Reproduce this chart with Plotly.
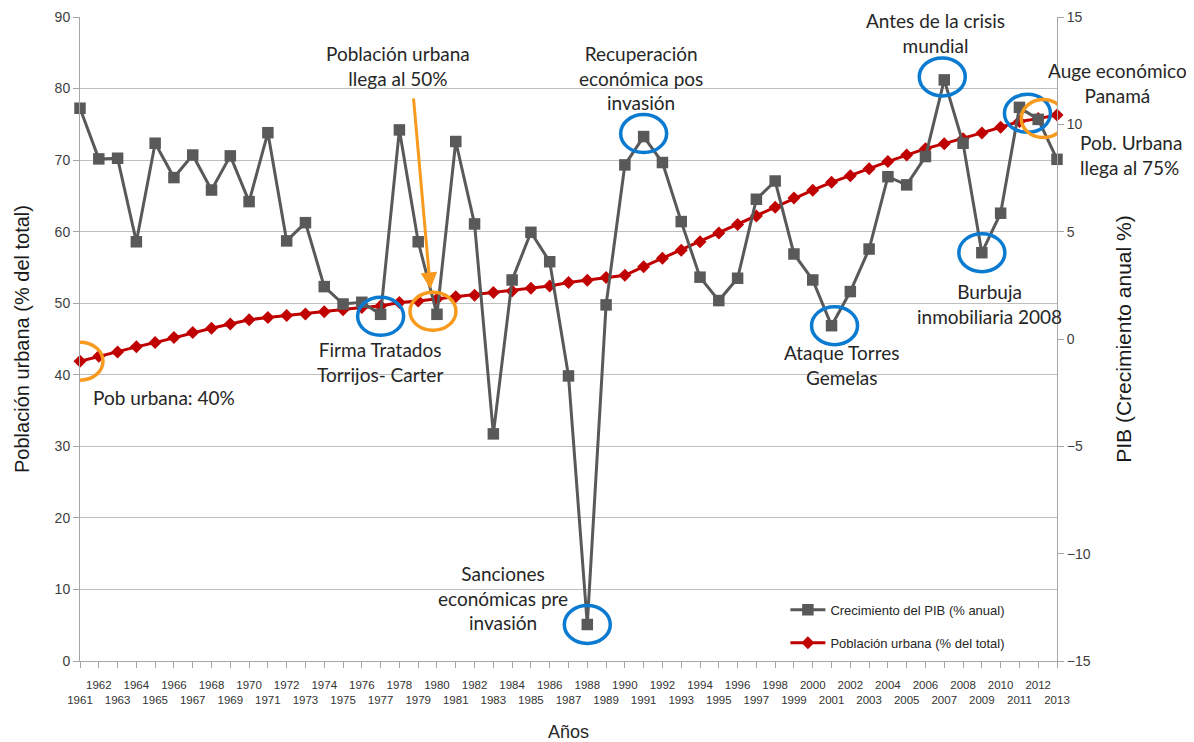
import plotly.graph_objects as go

years = list(range(1961, 2014))
gdp = [10.75, 8.39, 8.42, 4.53, 9.12, 7.52, 8.57, 6.94, 8.53, 6.40,
       9.61, 4.57, 5.42, 2.44, 1.63, 1.71, 1.15, 9.74, 4.53, 1.15,
       9.20, 5.36, -4.42, 2.75, 4.97, 3.60, -1.72, -13.30, 1.59, 8.11,
       9.43, 8.22, 5.47, 2.88, 1.79, 2.83, 6.51, 7.36, 3.96, 2.75,
       0.62, 2.21, 4.19, 7.56, 7.18, 8.50, 12.07, 9.12, 4.02, 5.86,
       10.79, 10.23, 8.37]
urban = [41.9, 42.6, 43.2, 43.9, 44.5, 45.2, 45.9, 46.5, 47.1, 47.7,
         48.0, 48.3, 48.5, 48.8, 49.1, 49.4, 49.6, 50.1, 50.3, 50.6,
         50.9, 51.1, 51.5, 51.7, 52.1, 52.4, 52.9, 53.2, 53.6, 53.9,
         55.1, 56.3, 57.4, 58.6, 59.8, 61.0, 62.2, 63.4, 64.7, 65.8,
         66.9, 67.8, 68.8, 69.8, 70.7, 71.6, 72.3, 73.0, 73.8, 74.6,
         75.4, 75.8, 76.3]
tick_text = [str(y) if y % 2 == 0 else "\u00a0<br>" + str(y) for y in years]

GRAY = "#595959"
RED = "#C00000"
BLUE = "#0A7BD0"
ORANGE = "#F79A1E"
TXT = "Lato"

fig = go.Figure()
fig.add_trace(go.Scatter(
    x=years, y=gdp, yaxis="y2", mode="lines+markers",
    name="Crecimiento del PIB (% anual)", legendgroup="g1",
    line=dict(color=GRAY, width=3),
    marker=dict(symbol="square", size=11.5, color=GRAY),
    cliponaxis=False))
fig.add_trace(go.Scatter(
    x=years, y=urban, yaxis="y", mode="lines+markers",
    name="Población urbana (% del total)", legendgroup="g2",
    line=dict(color=RED, width=3),
    marker=dict(symbol="diamond", size=10, color=RED),
    cliponaxis=False))

# circles: (year index, series, color, dx, dy)
circles = [
    (0, "u", ORANGE, 0, 0),
    (16, "g", BLUE, 0, -2),
    (19, "g", ORANGE, -4, 3),
    (27, "g", BLUE, 0, 0),
    (30, "g", BLUE, 0, 3),
    (40, "g", BLUE, 3, 0),
    (46, "g", BLUE, -2, 3),
    (48, "g", BLUE, 0, 0),
    (50, "g", BLUE, 8, -6),
]
shapes = []
for i, s, c, dx, dy in circles:
    yv = gdp[i] if s == "g" else urban[i]
    shapes.append(dict(
        type="circle", xref="x", yref="y2" if s == "g" else "y",
        xsizemode="pixel", ysizemode="pixel",
        xanchor=years[i], yanchor=yv,
        x0=-23 + dx, x1=23 + dx, y0=-19 + dy, y1=19 + dy,
        line=dict(color=c, width=3.5), layer="above"))
# orange circle at 2012 urban
shapes.append(dict(
    type="circle", xref="x", yref="y",
    xsizemode="pixel", ysizemode="pixel",
    xanchor=years[51], yanchor=urban[51],
    x0=-17, x1=27, y0=-19, y1=19,
    line=dict(color=ORANGE, width=3.5), layer="above"))

afont = dict(family=TXT, size=19, color="#262626")
annotations = [
    dict(x=398, y=66, text="Población urbana<br>llega al 50%"),
    dict(x=641, y=78, text="Recuperación<br>económica pos<br>invasión"),
    dict(x=935, y=33, text="Antes de la crisis<br>mundial"),
    dict(x=1117, y=83, text="Auge económico<br>Panamá"),
    dict(x=989, y=304, text="Burbuja<br>inmobiliaria 2008"),
    dict(x=841, y=365, text="Ataque Torres<br>Gemelas"),
    dict(x=380, y=362, text="Firma Tratados<br>Torrijos- Carter"),
    dict(x=503, y=598, text="Sanciones<br>económicas pre<br>invasión"),
]
# page offset (body margin) of 8px
OFF = 8
W, H = 1186, 734
L, T = 72, 9
PW, PH = 977, 644
R, B = W - L - PW, H - T - PH
ann = []
def add_text(px, py, text, xanchor="center", align="center"):
    fx, fy = px - OFF, py - OFF
    ann.append(dict(x=(fx - L) / PW, y=(T + PH - fy) / PH, xref="paper", yref="paper",
                    text=text, showarrow=False, font=afont, align=align,
                    xanchor=xanchor, yanchor="middle"))
for a in annotations:
    add_text(a["x"], a["y"], a["text"])
add_text(1078, 155, "Pob. Urbana<br>llega al 75%", xanchor="left", align="left")
add_text(91, 397, "Pob urbana: 40%", xanchor="left", align="left")

# arrow
ann.append(dict(x=1979.65, y=52.0, xref="x", yref="y", ax=-17, ay=-192,
                showarrow=True, arrowhead=2, arrowsize=1.1, arrowwidth=3,
                arrowcolor=ORANGE, text=""))

axfont = dict(family="Liberation Sans, Arial", size=14, color="#404040")
fig.update_layout(
    width=W, height=H,
    margin=dict(l=L, r=R, t=T, b=B, autoexpand=False),
    paper_bgcolor="white", plot_bgcolor="white",
    showlegend=True,
    legend=dict(x=0.722, y=0.005, xanchor="left", yanchor="bottom",
                font=dict(family="Liberation Sans, Arial", size=13, color="#262626"),
                bgcolor="rgba(0,0,0,0)", tracegroupgap=13, itemwidth=35),
    xaxis=dict(range=[1961, 2013], tickvals=years, ticktext=tick_text,
               tickangle=0, showgrid=False, showline=True, linecolor="#A6A6A6",
               ticks="outside", ticklen=6, tickcolor="#A6A6A6", automargin=False,
               tickfont=dict(family="Liberation Sans, Arial", size=11.5, color="#333333"),
               ticklabelstandoff=7,
               title=dict(text="Años", font=dict(family="Liberation Sans, Arial", size=18, color="#262626"),
                          standoff=28),
               zeroline=False),
    yaxis=dict(range=[0, 90], dtick=10, showgrid=True, gridcolor="#BFBFBF", gridwidth=1,
               showline=True, linecolor="#A6A6A6", ticks="outside", ticklen=6,
               tickcolor="#A6A6A6", tickfont=axfont, zeroline=False, automargin=False,
               title=dict(text="Población urbana (% del total)",
                          font=dict(family="Liberation Sans, Arial", size=20, color="#1a1a1a"),
                          standoff=19)),
    yaxis2=dict(range=[-15, 15], dtick=5, overlaying="y", side="right", showgrid=False,
                showline=True, linecolor="#A6A6A6", ticks="outside", ticklen=6,
                tickcolor="#A6A6A6", tickfont=axfont, zeroline=False, automargin=False,
                title=dict(text="PIB (Crecimiento anual %)",
                           font=dict(family="Liberation Sans, Arial", size=21, color="#1a1a1a"),
                           standoff=26)),
    shapes=shapes,
    annotations=ann,
)
fig.write_html("out.html")
